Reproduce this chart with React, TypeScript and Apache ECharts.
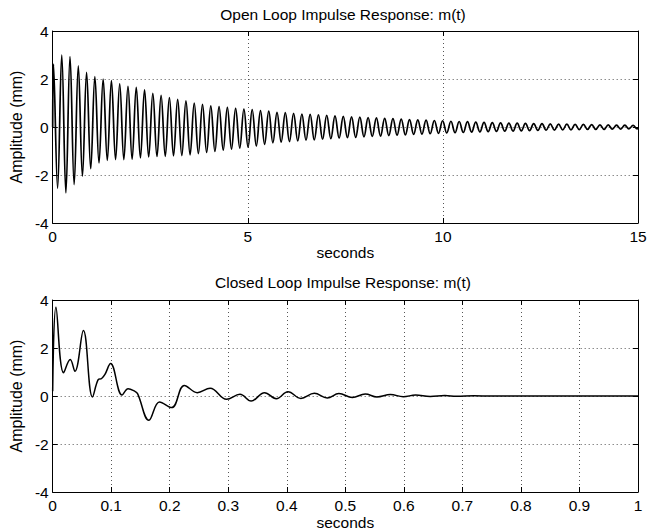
import React, { useEffect, useRef } from "react";
import * as echarts from "echarts";

// ---------- data ----------
// Open loop: value of each positive peak and each following negative trough (mm)
const openLoopPeaks = [
  2.62, 3.0, 2.93, 2.55, 2.28, 2.1, 2.0, 1.93, 1.8, 1.69,
  1.65, 1.55, 1.4, 1.32, 1.23, 1.15, 1.09, 1.0, 0.94, 0.88,
  0.85, 0.82, 0.78, 0.75, 0.73, 0.68, 0.66, 0.61, 0.6, 0.57,
  0.54, 0.53, 0.51, 0.49, 0.46, 0.44, 0.42, 0.41, 0.39, 0.38,
  0.36, 0.35, 0.33, 0.31, 0.3, 0.29, 0.27, 0.26, 0.24, 0.23,
  0.22, 0.2, 0.19, 0.18, 0.17, 0.16, 0.16, 0.15, 0.14, 0.14,
  0.13, 0.12, 0.12, 0.11, 0.11, 0.1, 0.09, 0.09, 0.08, 0.08,
  0.07,
];
const openLoopTroughs = [
  -2.55, -2.74, -2.4, -2.05, -1.74, -1.5, -1.39, -1.36, -1.36, -1.34,
  -1.29, -1.25, -1.23, -1.22, -1.2, -1.19, -1.16, -1.11, -1.06, -1.02,
  -0.96, -0.92, -0.88, -0.84, -0.79, -0.72, -0.66, -0.63, -0.61, -0.58,
  -0.55, -0.54, -0.51, -0.49, -0.46, -0.44, -0.43, -0.41, -0.39, -0.38,
  -0.36, -0.34, -0.33, -0.31, -0.3, -0.28, -0.27, -0.25, -0.24, -0.23,
  -0.21, -0.2, -0.19, -0.18, -0.17, -0.17, -0.16, -0.15, -0.14, -0.13,
  -0.13, -0.12, -0.12, -0.11, -0.1, -0.1, -0.1, -0.09, -0.09, -0.08,
  -0.08,
];
const openLoopPeriod = 0.2122; // seconds per cycle (read from peak spacing)
const openLoopFirstPeak = 0.02; // seconds
const openLoopStart: [number, number] = [0, 0];
const openLoopEnd: [number, number] = [15, -0.04];

// Closed loop: sampled turning points (seconds, mm)
const closedLoopTimes = [
  0, 0.0056, 0.0186, 0.03, 0.038, 0.0525, 0.068, 0.078, 0.0836, 0.0893,
  0.0989, 0.1186, 0.1288, 0.14, 0.145, 0.1644, 0.1825, 0.2034, 0.2249, 0.247,
  0.269, 0.297, 0.32, 0.339, 0.362, 0.382, 0.402, 0.424, 0.447, 0.469,
  0.489, 0.512, 0.534, 0.554, 0.577, 0.599, 0.62, 0.645, 0.67, 0.69,
  0.72, 0.75, 1.0,
];
const closedLoopValues = [
  0.2, 3.7, 0.97, 1.52, 1.03, 2.73, -0.04, 0.69, 0.73, 0.9,
  1.35, 0.04, 0.3, 0.2, 0.1, -1.01, -0.25, -0.48, 0.44, 0.14,
  0.32, -0.14, 0.07, -0.21, 0.14, -0.11, 0.18, -0.1, 0.11, -0.08,
  0.1, -0.06, 0.08, -0.04, 0.06, -0.03, 0.04, -0.02, 0.02, -0.01,
  0.01, 0.0, 0.0,
];

// Tick labels
const amplitudeTicks = [-4, -2, 0, 2, 4];
const openLoopTicks = [0, 5, 10, 15];
const closedLoopTicks = [0, 0.1, 0.2, 0.3, 0.4, 0.5, 0.6, 0.7, 0.8, 0.9, 1];

const openTitle = "Open Loop Impulse Response: m(t)";
const closedTitle = "Closed Loop Impulse Response: m(t)";
const xName = "seconds";
const yName = "Amplitude (mm)";

// ---------- chart ----------
const FONT = "'Liberation Sans', Arial, Helvetica, sans-serif";
const FS = 15.5;

const fmt = (v: number) => String(parseFloat(Number(v).toFixed(2)));

const gridLine = {
  show: true,
  lineStyle: { color: "#555", width: 1, type: [1, 3] as any },
};

function mkX(gridIndex: number, ticks: number[], main: boolean, nameGap: number) {
  return {
    type: "value",
    gridIndex,
    position: main ? "bottom" : "top",
    min: ticks[0],
    max: ticks[ticks.length - 1],
    interval: ticks[1] - ticks[0],
    axisLine: { show: true, onZero: false, lineStyle: { color: "#000", width: 1 } },
    axisTick: { show: true, inside: true, length: 5, lineStyle: { color: "#000", width: 1 } },
    axisLabel: main
      ? {
          show: true,
          margin: 5,
          color: "#000",
          fontSize: FS,
          fontFamily: FONT,
          formatter: (v: number) => fmt(v),
          showMinLabel: true,
          showMaxLabel: true,
        }
      : { show: false },
    splitLine: main ? gridLine : { show: false },
    name: main ? xName : "",
    nameLocation: "middle",
    nameGap,
    nameTextStyle: { color: "#000", fontSize: FS, fontFamily: FONT },
  };
}

function mkY(gridIndex: number, ticks: number[], main: boolean) {
  return {
    type: "value",
    gridIndex,
    position: main ? "left" : "right",
    min: ticks[0],
    max: ticks[ticks.length - 1],
    interval: ticks[1] - ticks[0],
    axisLine: { show: true, onZero: false, lineStyle: { color: "#000", width: 1 } },
    axisTick: { show: true, inside: true, length: 5, lineStyle: { color: "#000", width: 1 } },
    axisLabel: main
      ? {
          show: true,
          margin: 4,
          color: "#000",
          fontSize: FS,
          fontFamily: FONT,
          formatter: (v: number) => fmt(v),
          showMinLabel: true,
          showMaxLabel: true,
        }
      : { show: false },
    splitLine: main ? gridLine : { show: false },
    name: main ? yName : "",
    nameLocation: "middle",
    nameGap: 18,
    nameTextStyle: { color: "#000", fontSize: 16, fontFamily: FONT },
  };
}

export default function App() {
  const ref = useRef<HTMLDivElement>(null);

  useEffect(() => {
    if (!ref.current) return;
    const chart = echarts.init(ref.current, undefined, { renderer: "svg" });

    const openLoopData: [number, number][] = [openLoopStart];
    openLoopPeaks.forEach((p, k) => {
      openLoopData.push([openLoopFirstPeak + k * openLoopPeriod, p]);
      openLoopData.push([openLoopFirstPeak + (k + 0.5) * openLoopPeriod, openLoopTroughs[k]]);
    });
    openLoopData.push(openLoopEnd);

    const closedLoopData = closedLoopTimes.map((t, i) => [t, closedLoopValues[i]]);

    chart.setOption({
      animation: false,
      backgroundColor: "#fff",
      grid: [
        { left: 49, top: 31, width: 589, height: 192 },
        { left: 48, top: 300, width: 590, height: 193 },
      ],
      xAxis: [
        mkX(0, openLoopTicks, true, 20),
        mkX(0, openLoopTicks, false, 20),
        mkX(1, closedLoopTicks, true, 22),
        mkX(1, closedLoopTicks, false, 22),
      ],
      yAxis: [
        mkY(0, amplitudeTicks, true),
        mkY(0, amplitudeTicks, false),
        mkY(1, amplitudeTicks, true),
        mkY(1, amplitudeTicks, false),
      ],
      graphic: [
        {
          type: "text",
          x: 343,
          y: 14,
          style: {
            text: openTitle,
            fill: "#000",
            fontSize: FS,
            fontFamily: FONT,
            textAlign: "center",
            textVerticalAlign: "middle",
          },
        },
        {
          type: "text",
          x: 343,
          y: 282,
          style: {
            text: closedTitle,
            fill: "#000",
            fontSize: FS,
            fontFamily: FONT,
            textAlign: "center",
            textVerticalAlign: "middle",
          },
        },
      ],
      series: [
        {
          type: "line",
          xAxisIndex: 0,
          yAxisIndex: 0,
          data: openLoopData,
          showSymbol: false,
          smooth: 0.4,
          lineStyle: { color: "#000", width: 1.7 },
          clip: true,
        },
        {
          type: "line",
          xAxisIndex: 2,
          yAxisIndex: 2,
          data: closedLoopData,
          showSymbol: false,
          smooth: 0.4,
          lineStyle: { color: "#000", width: 1.5 },
          clip: true,
        },
      ],
    });

    return () => chart.dispose();
  }, []);

  return (
    <div
      ref={ref}
      style={{ position: "fixed", left: 0, top: 0, width: 660, height: 531, background: "#fff" }}
    />
  );
}
